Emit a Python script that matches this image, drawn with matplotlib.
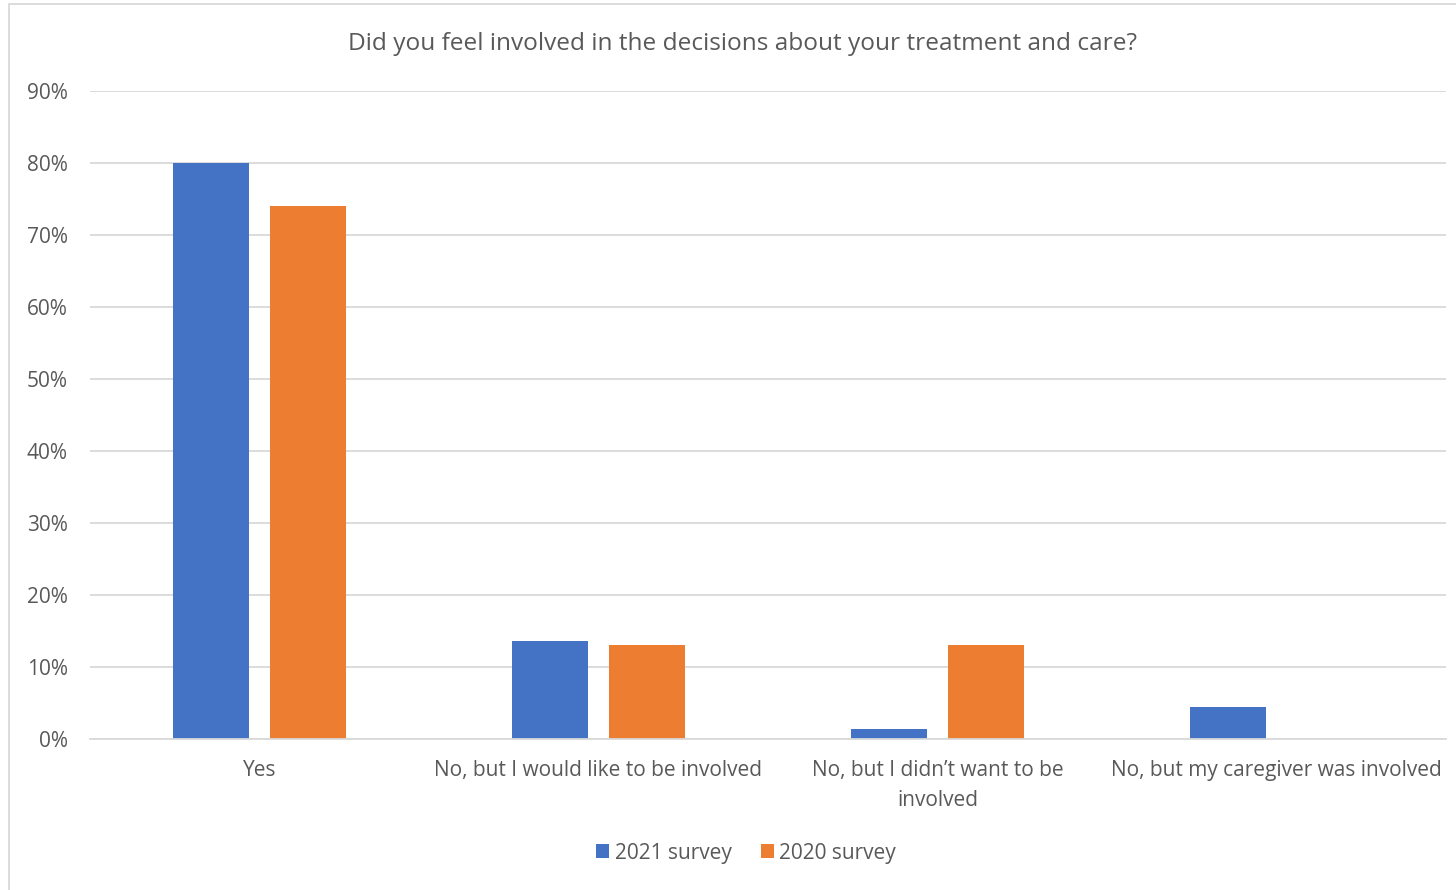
import numpy as np
import matplotlib
matplotlib.use("Agg")
import matplotlib.pyplot as plt
from matplotlib.patches import Rectangle
from matplotlib.ticker import FuncFormatter

# survey answers, share of respondents
categories = ["Yes", "No, but I would like to be involved",
              "No, but I didn\u2019t want to be\ninvolved",
              "No, but my caregiver was involved"]
survey_2021 = [0.80, 0.136, 0.014, 0.044]
survey_2020 = [0.74, 0.13, 0.13, 0.0]

plt.rcParams['font.family'] = ['Open Sans', 'DejaVu Sans']
text_color = '#595959'
grid_color = '#d9d9d9'

fig = plt.figure(figsize=(14.56, 8.90), dpi=100)
fig.patches.append(Rectangle((9 / 1456, -0.01), 1.02, 1 - 4 / 890 + 0.01,
                             transform=fig.transFigure, fill=False,
                             edgecolor=grid_color, linewidth=1.3))
ax = fig.add_axes([90 / 1456, 1 - 739 / 890, 1356 / 1456, 648 / 890])

x = np.arange(len(categories))
w = 0.224
off = 0.143
ax.bar(x - off, survey_2021, w, color='#4472c4', label='2021 survey')
ax.bar(x + off, survey_2020, w, color='#ed7d31', label='2020 survey')

ax.set_xlim(-0.5, 3.5)
ax.set_ylim(0, 0.9)
ax.set_yticks(np.arange(0, 0.91, 0.1))
ax.yaxis.set_major_formatter(FuncFormatter(lambda v, p: f"{v * 100:.0f}%"))
ax.grid(axis='y', color=grid_color, linewidth=1.3)
ax.set_axisbelow(True)
for s in ['top', 'right', 'left']:
    ax.spines[s].set_visible(False)
ax.spines['bottom'].set_color(grid_color)
ax.spines['bottom'].set_linewidth(1.3)
ax.tick_params(length=0, colors=text_color, labelsize=15)
ax.tick_params(axis='y', pad=16)
ax.tick_params(axis='x', pad=15)
ax.set_xticks(x)
ax.set_xticklabels(categories, linespacing=1.55)

fig.text(742 / 1456, 1 - 44 / 890, "Did you feel involved in the decisions about your treatment and care?",
         ha='center', va='center', fontsize=17.6, color=text_color)

leg = fig.legend(loc='center', bbox_to_anchor=(746 / 1456, 1 - 853 / 890), ncol=2,
                 frameon=False, fontsize=15, handlelength=0.65, handleheight=0.65,
                 handletextpad=0.25, columnspacing=1.4)
for t in leg.get_texts():
    t.set_color(text_color)

fig.savefig("out.png", dpi=100)
